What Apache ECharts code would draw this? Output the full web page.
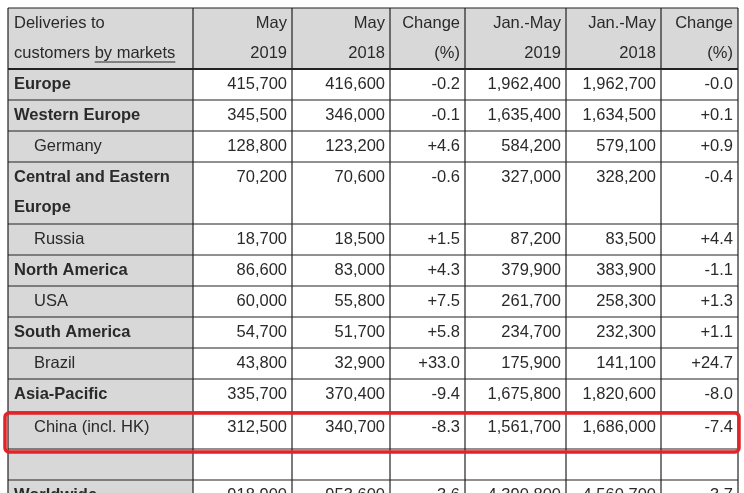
<!DOCTYPE html>
<html lang="en">
<head>
  <meta charset="UTF-8">
  <title>Deliveries</title>
  <script src="https://cdn.jsdelivr.net/npm/echarts@6/dist/echarts.min.js"></script>
</head>
<body style="margin:0">
  <div id="main" style="width:744px;height:493px;background:#fff"></div>
  <script>
    // table data
    var markets = ['Europe', 'Western Europe', 'Germany', 'Central and Eastern|Europe', 'Russia', 'North America', 'USA',
      'South America', 'Brazil', 'Asia-Pacific', 'China (incl. HK)', '', 'Worldwide']
    var isSub = [false, false, true, false, true, false, true, false, true, false, true, false, false]
    var may2019 = ['415,700', '345,500', '128,800', '70,200', '18,700', '86,600', '60,000', '54,700', '43,800', '335,700', '312,500', '', '918,900']
    var may2018 = ['416,600', '346,000', '123,200', '70,600', '18,500', '83,000', '55,800', '51,700', '32,900', '370,400', '340,700', '', '953,600']
    var chgMay = ['-0.2', '-0.1', '+4.6', '-0.6', '+1.5', '+4.3', '+7.5', '+5.8', '+33.0', '-9.4', '-8.3', '', '-3.6']
    var ytd2019 = ['1,962,400', '1,635,400', '584,200', '327,000', '87,200', '379,900', '261,700', '234,700', '175,900', '1,675,800', '1,561,700', '', '4,390,800']
    var ytd2018 = ['1,962,700', '1,634,500', '579,100', '328,200', '83,500', '383,900', '258,300', '232,300', '141,100', '1,820,600', '1,686,000', '', '4,560,700']
    var chgYtd = ['-0.0', '+0.1', '+0.9', '-0.4', '+4.4', '-1.1', '+1.3', '+1.1', '+24.7', '-8.0', '-7.4', '', '-3.7']
    var headers = [['Deliveries to', 'customers by markets'], ['May', '2019'], ['May', '2018'], ['Change', '(%)'],
      ['Jan.-May', '2019'], ['Jan.-May', '2018'], ['Change', '(%)']]
    var highlightRow = 10

    var colX = [8, 193, 292, 390, 465, 566, 661, 738]
    var rowY = [8, 69, 100, 131, 162, 224, 255, 286, 317, 348, 379, 412, 449, 480, 511]
    var font = '"Liberation Sans", sans-serif'
    var fontSize = 16.5
    var cols = [may2019, may2018, chgMay, ytd2019, ytd2018, chgYtd]

    var g = []
    function txt(x, y, s, align, bold) {
      g.push({ type: 'text', x: x, y: y, style: { text: s, fontFamily: font, fontSize: fontSize, fill: '#2a2a2a',
        fontWeight: bold ? 'bold' : 'normal', align: align, verticalAlign: 'middle' } })
    }
    // backgrounds
    g.push({ type: 'rect', shape: { x: colX[0], y: rowY[0], width: colX[7] - colX[0], height: rowY[1] - rowY[0] }, style: { fill: '#d8d8d8' } })
    g.push({ type: 'rect', shape: { x: colX[0], y: rowY[1], width: colX[1] - colX[0], height: rowY[14] - rowY[1] }, style: { fill: '#d8d8d8' } })
    // header
    headers.forEach(function (h, c) {
      var left = c === 0
      var x = left ? colX[0] + 6 : colX[c + 1] - 5
      txt(x, rowY[0] + 15, h[0], left ? 'left' : 'right')
      txt(x, rowY[0] + 45, h[1], left ? 'left' : 'right')
    })
    // underline under "by markets"
    var ctx = document.createElement('canvas').getContext('2d')
    ctx.font = fontSize + 'px ' + font
    var ux1 = colX[0] + 6 + ctx.measureText('customers ').width
    var ux2 = colX[0] + 6 + ctx.measureText('customers by markets').width
    g.push({ type: 'line', shape: { x1: ux1, y1: 62, x2: ux2, y2: 62 }, style: { stroke: '#2a2a2a', lineWidth: 1 } })
    // body
    markets.forEach(function (m, r) {
      var top = rowY[r + 1]
      m.split('|').forEach(function (l, i) {
        txt(colX[0] + (isSub[r] ? 26 : 6), top + 15 + i * 30, l, 'left', !isSub[r])
      })
      cols.forEach(function (col, c) {
        txt(colX[c + 2] - 5, top + 15, col[r], 'right')
      })
    })
    // grid lines
    colX.forEach(function (x) {
      g.push({ type: 'line', shape: { x1: x, y1: rowY[0], x2: x, y2: 493 }, style: { stroke: '#222', lineWidth: 1.2 } })
    })
    rowY.forEach(function (y, i) {
      g.push({ type: 'line', shape: { x1: colX[0], y1: y, x2: colX[7], y2: y }, style: { stroke: '#222', lineWidth: i === 1 ? 2 : 1.2 } })
    })
    // highlight box
    g.push({ type: 'rect', shape: { x: 5, y: rowY[highlightRow + 1] + 1, width: 734, height: rowY[highlightRow + 2] - rowY[highlightRow + 1] + 2, r: 4 },
      style: { fill: 'none', stroke: '#e0242a', lineWidth: 3.5 } })

    var mCharts = echarts.init(document.getElementById('main'))
    mCharts.setOption({ animation: false, graphic: g })
  </script>
</body>
</html>
